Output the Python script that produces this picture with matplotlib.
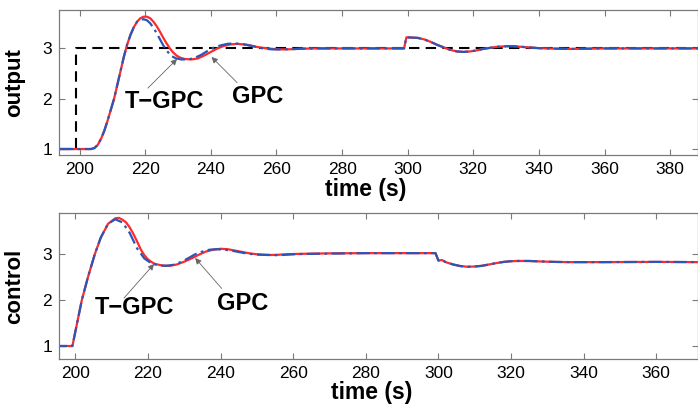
import matplotlib
matplotlib.use("Agg")
import matplotlib.pyplot as plt

plt.rcParams['font.family'] = ['Liberation Sans', 'DejaVu Sans']

# ---- output (top) ----
ref_t = [194, 199, 199, 390]
ref_y = [1, 1, 3, 3]

out_head_t = [194, 203.5, 204.5, 205.5, 206.5, 207.5, 208.5, 209.5, 210.5, 211.5,
              212.5, 213.5, 214.5, 215.5, 216.5, 217.5]
out_head_y = [1.0, 1.0, 1.02, 1.08, 1.2, 1.36, 1.56, 1.78, 2.0, 2.28,
              2.56, 2.84, 3.08, 3.27, 3.42, 3.53]

gpc_out_t = [218.5, 219.5, 220.5, 221.5, 222.5, 223.5, 224.5, 225.5, 226.5, 227.5,
             228.5, 229.5, 230.5, 232, 234, 236, 238, 240, 242, 244, 246, 248, 250,
             252, 254, 256, 258, 260, 262, 265, 268, 272, 298.9]
gpc_out_y = [3.6, 3.63, 3.63, 3.6, 3.53, 3.44, 3.33, 3.21, 3.1, 3.0,
             2.92, 2.86, 2.82, 2.79, 2.78, 2.8, 2.86, 2.93, 3.0, 3.05, 3.08, 3.09, 3.08,
             3.06, 3.03, 3.01, 2.995, 2.985, 2.98, 2.985, 2.995, 3.0, 3.0]

tgpc_out_t = [218.5, 219.5, 220.5, 221.5, 222.5, 223.5, 224.5, 225.5, 226.5, 227.5,
              228.5, 229.5, 231, 233, 235, 237, 239, 241, 243, 245, 247, 249, 251,
              253, 255, 257, 259, 261, 264, 268, 272, 298.9]
tgpc_out_y = [3.57, 3.58, 3.56, 3.5, 3.41, 3.3, 3.18, 3.06, 2.96, 2.88,
              2.83, 2.8, 2.78, 2.78, 2.81, 2.87, 2.95, 3.02, 3.06, 3.09, 3.1, 3.09, 3.07,
              3.04, 3.01, 2.99, 2.98, 2.98, 2.985, 2.995, 3.0, 3.0]

out_tail_t = [299.6, 303, 305, 307, 309, 311, 313, 315, 317, 319, 321, 323, 325,
              327, 329, 331, 333, 336, 340, 345, 350, 360, 390]
out_tail_y = [3.22, 3.21, 3.18, 3.13, 3.07, 3.02, 2.97, 2.94, 2.93, 2.94, 2.96, 2.99, 3.01,
              3.03, 3.04, 3.045, 3.04, 3.025, 3.005, 2.995, 2.99, 3.0, 3.0]

# ---- control (bottom) ----
ctl_head_t = [194, 199.2, 200.5, 201.8, 203.5, 205.4, 207, 209]
ctl_head_y = [1.0, 1.0, 1.5, 2.0, 2.5, 3.0, 3.35, 3.65]

gpc_ctl_t = [211, 212, 213, 214, 215, 216, 217, 218, 219, 220, 221, 222, 224, 226,
             228, 230, 232, 234, 236, 238, 240, 242, 244, 246, 248, 250, 252, 254,
             256, 258, 262, 270, 280, 299.2]
gpc_ctl_y = [3.77, 3.78, 3.74, 3.68, 3.57, 3.43, 3.27, 3.1, 2.97, 2.88, 2.82, 2.78, 2.745, 2.74,
             2.77, 2.83, 2.9, 2.98, 3.05, 3.09, 3.11, 3.1, 3.07, 3.04, 3.01, 2.99, 2.98, 2.975,
             2.98, 2.99, 3.0, 3.01, 3.015, 3.015]

tgpc_ctl_t = [211, 213, 215, 217, 219, 221, 223, 225, 227, 229, 231, 233, 235, 237,
              239, 241, 243, 245, 247, 249, 251, 253, 255, 257, 260, 265, 280, 299.2]
tgpc_ctl_y = [3.75, 3.68, 3.45, 3.12, 2.9, 2.79, 2.75, 2.74, 2.76, 2.82, 2.9, 2.99, 3.05, 3.09,
              3.1, 3.09, 3.07, 3.04, 3.01, 2.99, 2.98, 2.975, 2.97, 2.975, 2.99, 3.0, 3.015, 3.015]

ctl_tail_t = [300, 301, 302, 304, 306, 308, 310, 312, 314, 316, 318, 320, 322, 325,
              328, 332, 336, 345, 360, 372]
ctl_tail_y = [2.855, 2.865, 2.82, 2.77, 2.735, 2.72, 2.725, 2.74, 2.77, 2.8, 2.825, 2.84, 2.845, 2.845,
              2.835, 2.825, 2.82, 2.82, 2.825, 2.82]

red = '#ff2a2a'
blue = '#2c55b8'
spine_c = '#7a7a7a'

fig = plt.figure(figsize=(6.98, 4.07), dpi=100)
ax1 = fig.add_axes([0.0845, 0.619, 0.9155, 0.356])
ax2 = fig.add_axes([0.0845, 0.117, 0.9155, 0.359])


def style(ax):
    for s in ax.spines.values():
        s.set_color(spine_c)
        s.set_linewidth(0.9)
    ax.tick_params(direction='in', length=4, width=0.8, color=spine_c,
                   labelsize=12.5, top=True, right=True, pad=5)


def label_arrow(ax, txt, txt_xy, tail, head):
    ax.text(txt_xy[0], txt_xy[1], txt, fontsize=17, fontweight='bold',
            ha='center', va='center')
    ax.annotate('', xy=head, xytext=tail,
                arrowprops=dict(arrowstyle='-|>', color='#666666', lw=0.6,
                                shrinkA=0, shrinkB=0, mutation_scale=9))


# top
ax1.plot(ref_t, ref_y, color='black', lw=1.5, dashes=(5, 3))
ax1.plot(out_head_t + gpc_out_t + out_tail_t, out_head_y + gpc_out_y + out_tail_y,
         color=red, lw=1.6)
ax1.plot(out_head_t + tgpc_out_t + out_tail_t, out_head_y + tgpc_out_y + out_tail_y,
         color=blue, lw=1.6, dashes=(6, 2, 1.2, 2))
ax1.set_xlim(193.7, 388.5)
ax1.set_ylim(0.88, 3.76)
ax1.set_xticks([200, 220, 240, 260, 280, 300, 320, 340, 360, 380])
ax1.set_yticks([1, 2, 3])
style(ax1)
ax1.set_ylabel('output', fontsize=16, fontweight='bold')
ax1.yaxis.set_label_coords(-0.053, 0.5)
ax1.set_xlabel('time (s)', fontsize=16.5, fontweight='bold')
ax1.xaxis.set_label_coords(0.48, -0.16)
label_arrow(ax1, 'T\u2212GPC', (226, 1.95), (220.8, 2.21), (229.7, 2.79))
label_arrow(ax1, 'GPC', (254.4, 2.05), (248.0, 2.32), (240.2, 2.83))

# bottom
ax2.plot(ctl_head_t + gpc_ctl_t + ctl_tail_t, ctl_head_y + gpc_ctl_y + ctl_tail_y,
         color=red, lw=1.6)
ax2.plot(ctl_head_t + tgpc_ctl_t + ctl_tail_t, ctl_head_y + tgpc_ctl_y + ctl_tail_y,
         color=blue, lw=1.6, dashes=(6, 2, 1.2, 2))
ax2.set_xlim(195.5, 371.5)
ax2.set_ylim(0.71, 3.88)
ax2.set_xticks([200, 220, 240, 260, 280, 300, 320, 340, 360])
ax2.set_yticks([1, 2, 3])
style(ax2)
ax2.set_ylabel('control', fontsize=16, fontweight='bold')
ax2.yaxis.set_label_coords(-0.053, 0.5)
ax2.set_xlabel('time (s)', fontsize=16.5, fontweight='bold')
ax2.xaxis.set_label_coords(0.49, -0.145)
label_arrow(ax2, 'T\u2212GPC', (216.4, 1.84), (213.4, 2.04), (221.7, 2.78))
label_arrow(ax2, 'GPC', (246.1, 1.92), (240.3, 2.25), (233, 2.91))

fig.savefig('out.png', dpi=100)
